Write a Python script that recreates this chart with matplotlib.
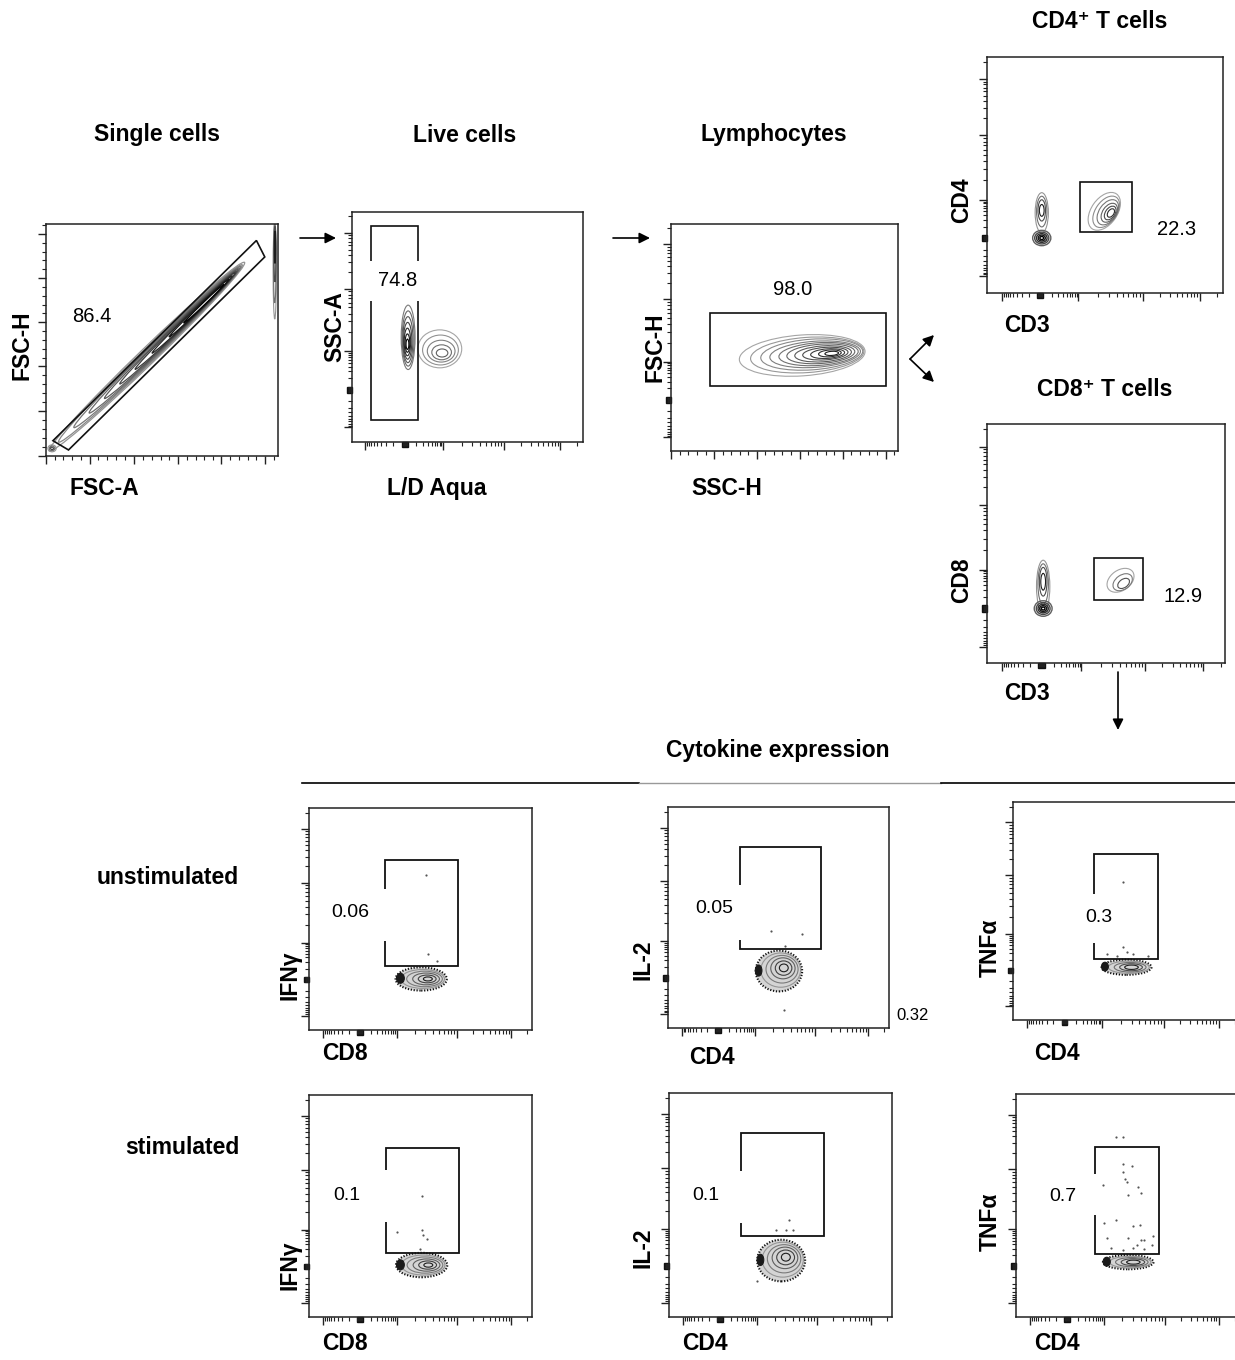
import numpy as np
import matplotlib
matplotlib.use("Agg")
import matplotlib.pyplot as plt
from matplotlib.patches import Ellipse, Rectangle, Polygon, FancyArrowPatch
from matplotlib.lines import Line2D

W, H = 1235, 1360
plt.rcParams['font.family'] = ['Liberation Sans', 'DejaVu Sans']

# ---- values, every axis scaled 0-100 ----
# gate frequencies
single_pct, live_pct, lymph_pct = "86.4", "74.8", "98.0"
cd4_pct, cd8_pct = "22.3", "12.9"
unstim_pct = ["0.06", "0.05", "0.3"]
stim_pct = ["0.1", "0.1", "0.7"]

# gates
single_gate = [(3.0, 6.6), (9.7, 2.6), (94.3, 85.8), (90.7, 92.9)]
live_gate = (8.4, 9.4, 28.7, 93.8)
lymph_gate = (17.4, 28.8, 94.6, 60.9)
cd4_gate = (39.4, 26.0, 61.5, 46.9)
cd8_gate = (45.0, 26.3, 65.6, 44.1)
unstim_gates = [(34.2, 28.9, 67.0, 76.7), (32.4, 35.7, 69.4, 81.9), (35.7, 27.9, 64.0, 76.3)]
stim_gates = [(34.5, 28.8, 67.3, 76.3), (32.4, 36.0, 69.5, 82.1), (35.3, 28.4, 64.0, 76.4)]

# populations as contour rings (cx, cy, width, height)
single_rings = [(43.5, 42.8, 117, 7.0), (45, 44.2, 110, 6.0), (48, 47, 100, 5.2), (51, 49.8, 90, 4.5),
                (54, 52.6, 80, 3.8), (57, 55.4, 70, 3.2), (60, 58.2, 60, 2.6), (63, 61, 48, 2.0),
                (66, 63.8, 36, 1.5), (68, 65.6, 24, 1.0)]
single_debris = [(2.6, 3.3, 3.6, 3.0), (2.6, 3.3, 2.4, 2.0), (2.6, 3.3, 1.2, 1.0)]
single_strip = [(98.6, 80, 1.4, 42), (98.6, 83, 1.1, 34), (98.7, 87, 0.8, 24), (98.7, 90, 0.5, 14)]
live_rings = [(24.3, 45.5, 6.0, 28), (24.3, 45, 5.2, 24), (24.2, 44.5, 4.4, 20), (24.1, 44, 3.6, 16),
              (24.0, 43.5, 2.8, 12), (24.0, 43, 2.0, 8), (24.0, 42.5, 1.2, 4.5)]
dead_rings = [(38, 40.5, 19, 16.5), (38.3, 40, 15.5, 13), (38.6, 39.5, 12, 9.5),
              (38.8, 39, 8.5, 6.5), (39, 38.7, 5, 3.5)]
lymph_rings = [(57.8, 42.1, 55.5, 18), (60, 42.3, 50, 15.5), (62, 42.5, 45, 13.5), (63.5, 42.6, 40, 11.5),
               (65, 42.7, 35, 10), (66, 42.8, 30, 8.5), (67, 42.8, 25, 7), (68, 42.9, 20, 5.5),
               (69, 42.9, 15, 4.2), (70, 43, 10, 3), (70.8, 43, 6, 1.8)]
cd4_rings = [(49.7, 34.6, 18, 11), (50.5, 34.4, 15, 9), (51.2, 34.2, 12, 7.3),
             (51.8, 34.0, 9, 5.6), (52.2, 33.9, 6.5, 4), (52.5, 33.9, 4, 2.5)]
cd4_neg_column = [(23.2, 34, 5.6, 17), (23.2, 34.5, 4.4, 13), (23.2, 35, 3.2, 9), (23.2, 35, 2.0, 5)]
cd4_neg_blob = [(23.2, 23.3, 7.7, 6.5), (23.2, 23.3, 6.0, 5.0), (23.2, 23.3, 4.5, 3.7),
                (23.2, 23.3, 3.0, 2.5), (23.2, 23.3, 1.6, 1.3)]
cd8_rings = [(56.1, 34.6, 12.5, 8.5), (57, 33.8, 9, 6), (57.4, 33.3, 5.5, 3.5)]
cd8_neg_column = [(23.6, 32, 5.6, 22), (23.6, 33, 4.4, 17), (23.6, 34, 3.2, 12), (23.6, 34, 2.0, 7)]
cd8_neg_blob = [(23.6, 22.8, 7.5, 6.5), (23.6, 22.8, 5.8, 5.0), (23.6, 22.8, 4.3, 3.6),
                (23.6, 22.8, 2.9, 2.4), (23.6, 22.8, 1.5, 1.2)]

# cytokine panels: IFNg / IL-2 / TNFa, outer speckle ring, rings, dark left tip
unstim_outer = [(50.3, 23.0, 23, 10.5), (50.2, 25.8, 21, 18.5), (50.0, 24.2, 22, 7)]
stim_outer = [(50.5, 23.4, 23, 11), (50.3, 25.2, 21.5, 18.6), (50.1, 24.6, 22.6, 6.4)]
unstim_rings = [
    [(51, 23, 19.5, 8.5), (51.8, 23, 16, 7), (52.5, 23, 12, 5.3), (53, 23, 8, 3.5), (53.3, 23, 4, 1.8)],
    [(51, 26.2, 18, 15.5), (51.6, 26.6, 14.5, 12.5), (52, 27, 11, 9.5), (52.3, 27.1, 7.5, 6.5), (52.4, 27.2, 4, 3.5)],
    [(51, 24.2, 18, 5.6), (51.6, 24.2, 14, 4.4), (52, 24.2, 10, 3.2), (52.2, 24.2, 6, 2)],
]
stim_rings = [
    [(51.2, 23.4, 19.5, 9), (52, 23.4, 16, 7.3), (52.7, 23.4, 12, 5.5), (53.2, 23.4, 8, 3.7), (53.5, 23.4, 4, 1.9)],
    [(51, 25.6, 18.5, 15.6), (51.6, 26, 15, 12.6), (52, 26.4, 11.5, 9.6), (52.3, 26.6, 8, 6.6), (52.4, 26.7, 4, 3.5)],
    [(51, 24.6, 18.5, 5.2), (51.7, 24.6, 14.5, 4.1), (52.2, 24.6, 10.5, 3), (52.4, 24.6, 6, 1.8)],
]
unstim_tips = [(41, 23.3, 3.5, 4.5), (41, 26, 3, 5), (40.5, 24.5, 3, 4)]
stim_tips = [(41, 23.5, 3.5, 4.5), (41, 25.5, 3, 5), (40.5, 24.8, 3.2, 4)]

# single events
unstim_dots_x = [[52.3, 53.2, 57.6],
                 [46.8, 60.8, 53.1, 52.3],
                 [48.4, 48.4, 41.2, 50.1, 52.7, 59.4, 45.7]]
unstim_dots_y = [[69.9, 34.1, 31.3],
                 [43.7, 42.7, 37.3, 8.0],
                 [63.4, 33.6, 30.5, 31.3, 30.2, 29.5, 29.3]]
stim_dots_x = [[50.8, 39.3, 50.5, 51.0, 53.1, 49.8],
               [53.8, 52.3, 55.6, 48.1, 39.6],
               [44.5, 47.9, 47.9, 51.6, 47.6, 48.7, 49.7, 39.0, 54.6, 50.1, 55.7, 39.4, 44.5,
                52.4, 55.4, 40.5, 50.1, 61.3, 55.7, 57.1, 60.9, 53.9, 42.3, 52.4, 47.6, 57.1]]
stim_dots_y = [[54.7, 38.1, 39.0, 37.0, 35.1, 30.7],
               [43.5, 39.0, 39.0, 39.0, 15.9],
               [80.6, 80.9, 68.7, 67.8, 65.2, 61.9, 60.4, 59.3, 58.5, 54.8, 55.5, 42.1, 43.3,
                41.0, 41.3, 35.4, 35.4, 36.4, 34.6, 34.6, 32.4, 32.4, 30.9, 30.9, 29.9, 30.6]]

cyto_ylabels = ["IFNγ", "IL-2", "TNFα"]
cyto_xlabels = ["CD8", "CD4", "CD4"]

fig = plt.figure(figsize=(W / 100, H / 100), dpi=100)


def px_ax(l, t, r, b):
    ax = fig.add_axes([l / W, 1 - b / H, (r - l) / W, (b - t) / H])
    ax.set_xlim(0, 100)
    ax.set_ylim(0, 100)
    for s in ax.spines.values():
        s.set_linewidth(1.1)
        s.set_color('#222222')
    ax.tick_params(which='both', direction='out', labelbottom=False, labelleft=False, width=1, color='#222222')
    ax.tick_params(which='major', length=6)
    ax.tick_params(which='minor', length=3, width=0.8)
    return ax


def ftext(x, y, s, **kw):
    fig.text(x / W, 1 - y / H, s, ha='center', va='center', **kw)


def lin_ticks(axis, majors):
    minors = []
    for a, b in zip(majors[:-1], majors[1:]):
        minors += list(np.linspace(a, b, 6)[1:-1])
    step = majors[-1] - majors[-2]
    minors += [majors[-1] + step * f for f in (0.2, 0.4) if majors[-1] + step * f < 100]
    axis.set_ticks(majors)
    axis.set_ticks(minors, minor=True)


def biex_ticks(ax, which, low=6.3, zero=22.7, decs=(39.3, 66.4, 90.6)):
    k = np.log10(np.arange(2, 10))
    minors = list(zero - (zero - low) * k) + list(zero + (decs[0] - zero) * k)
    for a, b in zip(decs[:-1], decs[1:]):
        minors += list(a + (b - a) * k)
    step = decs[-1] - decs[-2]
    minors += [m for m in decs[-1] + step * k if m < 99.5]
    minors += list(zero + np.array([-1.0, -0.6, -0.2, 0.2, 0.6, 1.0]))
    axis = ax.xaxis if which == 'x' else ax.yaxis
    axis.set_ticks([low] + list(decs))
    axis.set_ticks(minors, minor=True)
    # heavy mark that the dense ticks make around zero
    if which == 'x':
        mark = Rectangle((zero - 1.3, -2.3), 2.6, 2.3)
    else:
        mark = Rectangle((-2.3, zero - 1.3), 2.3, 2.6)
    mark.set_color('#111111')
    mark.set_clip_on(False)
    ax.add_patch(mark)


def draw_rings(ax, rings, angle=0, lo=0.45, hi=0.92, lw=0.8):
    cols = plt.cm.Greys(np.linspace(lo, hi, len(rings)))
    for (cx, cy, w, h), c in zip(rings, cols):
        ax.add_patch(Ellipse((cx, cy), w, h, angle=angle, fill=False, ec=c, lw=lw, zorder=2))


def rect_gate(ax, g, lw=1.2):
    x0, y0, x1, y1 = g
    ax.add_patch(Rectangle((x0, y0), x1 - x0, y1 - y0, fill=False, ec='#111111', lw=lw, zorder=3))


def mask(ax, x0, x1, y0, y1):
    ax.add_patch(Rectangle((x0, y0), x1 - x0, y1 - y0, fc='white', ec='none', zorder=4))


def pct(ax, x, y, s, size=14.5):
    ax.text(x, y, s, ha='center', va='center', fontsize=size, zorder=5)


bold = dict(fontsize=16.5, fontweight='bold')

# ---- Single cells ----
ax = px_ax(46, 224, 278, 456)
lin_ticks(ax.xaxis, [0, 18.8, 37.9, 57.0, 75.6, 94.5])
lin_ticks(ax.yaxis, [0, 19.4, 38.6, 57.7, 76.7, 95.7])
draw_rings(ax, single_rings, angle=44, lo=0.5, hi=0.98, lw=0.9)
draw_rings(ax, single_debris, lo=0.5, hi=0.8)
draw_rings(ax, single_strip, lo=0.5, hi=0.9)
ax.add_patch(Polygon(single_gate, closed=True, fill=False, ec='#111111', lw=1.2, zorder=3))
pct(ax, 19.8, 60.1, single_pct)
ftext(157, 135, "Single cells", **bold)
ftext(104, 488, "FSC-A", **bold)
ftext(22, 345, "FSC-H", rotation=90, **bold)

# ---- Live cells ----
ax = px_ax(352, 212, 583, 442)
biex_ticks(ax, 'x', 5.5, 22.9, (39.5, 65.8, 90.2))
biex_ticks(ax, 'y', 6.4, 22.8, (39.4, 66.7, 90.9))
draw_rings(ax, live_rings, lo=0.6, hi=0.98)
draw_rings(ax, dead_rings, lo=0.45, hi=0.7)
rect_gate(ax, live_gate)
mask(ax, 5, 32, 61.2, 78.6)
pct(ax, 19.7, 70.3, live_pct)
ftext(465, 135, "Live cells", **bold)
ftext(437, 488, "L/D Aqua", **bold)
ftext(335, 327, "SSC-A", rotation=90, **bold)

# ---- Lymphocytes ----
ax = px_ax(671, 224, 898, 451)
lin_ticks(ax.xaxis, [0, 19.1, 37.7, 56.7, 75.7, 94.6])
biex_ticks(ax, 'y', 6.0, 22.5, (39.4, 67.0, 91.0))
draw_rings(ax, lymph_rings, angle=4, lo=0.45, hi=0.9)
rect_gate(ax, lymph_gate)
pct(ax, 53.5, 71.2, lymph_pct)
ftext(774, 135, "Lymphocytes", **bold)
ftext(727, 488, "SSC-H", **bold)
ftext(655, 347, "FSC-H", rotation=90, **bold)

# ---- CD4+ T cells ----
ax = px_ax(987, 57, 1223, 293)
biex_ticks(ax, 'x', 6.3, 22.5, (38.7, 65.9, 90.1))
biex_ticks(ax, 'y', 7.1, 23.3, (39.5, 66.8, 90.7))
draw_rings(ax, cd4_rings, angle=55, lo=0.45, hi=0.85)
draw_rings(ax, cd4_neg_column, lo=0.5, hi=0.9)
draw_rings(ax, cd4_neg_blob, lo=0.7, hi=1.0, lw=1.0)
rect_gate(ax, cd4_gate)
pct(ax, 80.3, 27.1, cd4_pct)
ftext(1100, 22, "CD4⁺ T cells", **bold)
ftext(1027, 326, "CD3", **bold)
ftext(962, 200, "CD4", rotation=90, **bold)

# ---- CD8+ T cells ----
ax = px_ax(987, 424, 1225, 663)
biex_ticks(ax, 'x', 6.3, 22.9, (39.7, 66.3, 90.9))
biex_ticks(ax, 'y', 6.7, 22.8, (39.1, 66.3, 90.5))
draw_rings(ax, cd8_rings, angle=35, lo=0.45, hi=0.75)
draw_rings(ax, cd8_neg_column, lo=0.5, hi=0.9)
draw_rings(ax, cd8_neg_blob, lo=0.7, hi=1.0, lw=1.0)
rect_gate(ax, cd8_gate)
pct(ax, 82.5, 27.9, cd8_pct)
ftext(1105, 390, "CD8⁺ T cells", **bold)
ftext(1027, 693, "CD3", **bold)
ftext(962, 580, "CD8", rotation=90, **bold)

# ---- Cytokine expression ----
ftext(778, 750, "Cytokine expression", **bold)
fig.add_artist(Line2D([302 / W, 639 / W], [1 - 783 / H] * 2, color='black', lw=1.2))
fig.add_artist(Line2D([639 / W, 941 / W], [1 - 783 / H] * 2, color='#999999', lw=1.0))
fig.add_artist(Line2D([941 / W, 1235 / W], [1 - 783 / H] * 2, color='black', lw=1.2))
ftext(168, 878, "unstimulated", **bold)
ftext(182, 1148, "stimulated", **bold)

row_boxes = [
    [(309, 808, 532, 1030), (668, 807, 889, 1028), (1013, 802, 1240, 1020)],
    [(309, 1095, 532, 1317), (669, 1093, 892, 1317), (1016, 1094, 1240, 1317)],
]
row_masks = [
    [(10, 36, 40.2, 63.6), (10, 34, 39.7, 64.6), (28, 46, 35.4, 57.6)],
    [(8, 37, 42.7, 66.0), (8, 35, 42.0, 65.0), (12, 37, 45.8, 64.0)],
]
row_pct_pos = [
    [(18.3, 53.1), (21.1, 54.0), (37.8, 46.9)],
    [(16.8, 54.7), (16.4, 54.3), (21.1, 54.0)],
]
row_xlab = [[(345, 1053), (712, 1057), (1057, 1053)], [(345, 1343), (705, 1343), (1057, 1343)]]
row_ylab = [[(290, 975), (643, 960), (990, 948)], [(290, 1265), (643, 1248), (990, 1222)]]
row_data = [
    (unstim_pct, unstim_gates, unstim_outer, unstim_rings, unstim_tips, unstim_dots_x, unstim_dots_y),
    (stim_pct, stim_gates, stim_outer, stim_rings, stim_tips, stim_dots_x, stim_dots_y),
]

for r in range(2):
    pcts, gates, outers, rings, tips, dx, dy = row_data[r]
    for c in range(3):
        ax = px_ax(*row_boxes[r][c])
        biex_ticks(ax, 'x')
        biex_ticks(ax, 'y')
        cx, cy, w, h = outers[c]
        ax.add_patch(Ellipse((cx, cy), w, h, fc='#d4d4d4', ec='#111111', lw=1.5,
                             ls=(0, (0.6, 0.8)), zorder=2))
        draw_rings(ax, rings[c], lo=0.5, hi=0.9)
        tx, ty, tw, th = tips[c]
        ax.add_patch(Ellipse((tx, ty), tw, th, fc='#1a1a1a', ec='#1a1a1a', lw=0.8, zorder=2))
        ax.scatter(dx[c], dy[c], s=2.5, c='#555555', lw=0, zorder=2)
        rect_gate(ax, gates[c], lw=1.3)
        mask(ax, *row_masks[r][c])
        pct(ax, *row_pct_pos[r][c], pcts[c], size=14)
        ftext(*row_xlab[r][c], cyto_xlabels[c], **bold)
        ftext(*row_ylab[r][c], cyto_ylabels[c], rotation=90, **bold)

ftext(913, 1015, "0.32", fontsize=12)

# ---- arrows ----
arrows = [((300, 238), (336, 238)), ((613, 238), (650, 238)),
          ((910, 359), (934, 335)), ((910, 359), (934, 382)), ((1118, 672), (1118, 730))]
for a, b in arrows:
    fig.add_artist(FancyArrowPatch((a[0] / W, 1 - a[1] / H), (b[0] / W, 1 - b[1] / H),
                                   transform=fig.transFigure, arrowstyle='-|>',
                                   mutation_scale=16, lw=1.2, color='black',
                                   shrinkA=0, shrinkB=0))

fig.savefig("out.png", dpi=100)
